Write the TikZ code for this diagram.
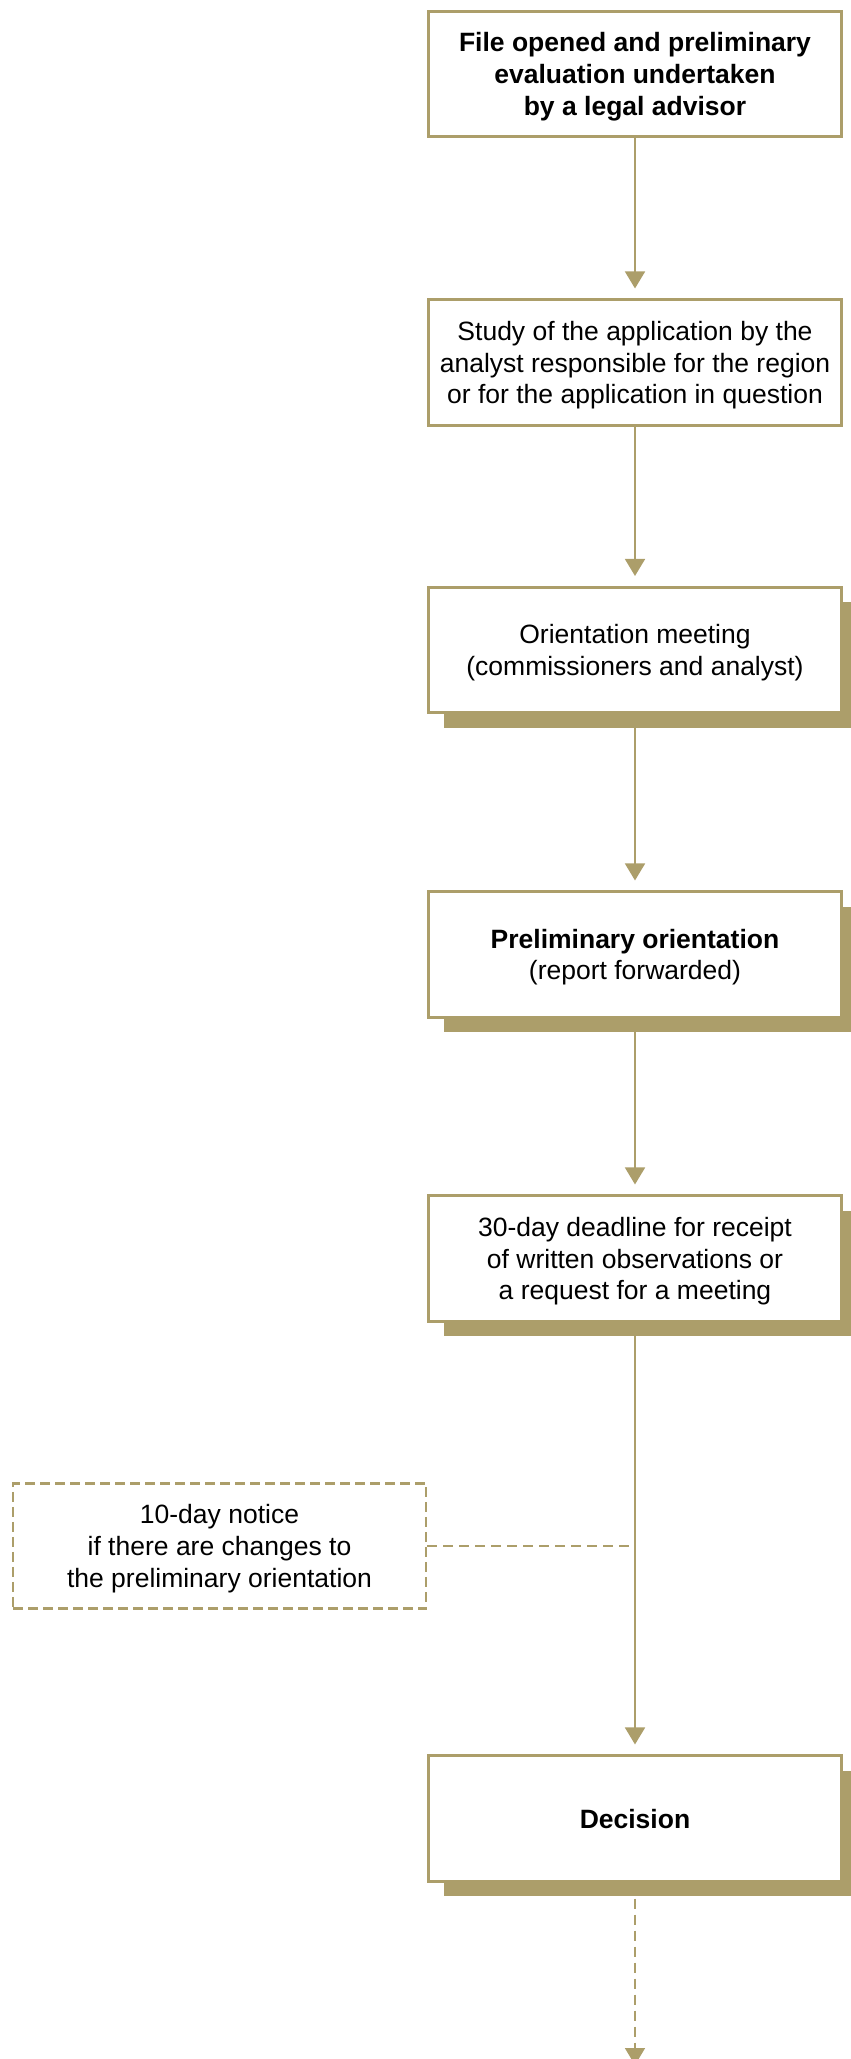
\documentclass[tikz,border=0pt]{standalone}
\usepackage{fontspec}
\setmainfont{Liberation Sans}
\usetikzlibrary{arrows.meta,shadows,backgrounds}
\definecolor{olive}{RGB}{172,158,106}
\tikzset{
  box/.style={draw=olive, line width=2.6pt, fill=white, minimum width=413pt, minimum height=125.5pt,
    align=center, inner sep=0pt, text depth=0pt, font=\fontsize{26.5pt}{31.7pt}\selectfont},
  shbox/.style={box, general shadow={fill=olive, shadow xshift=15pt, shadow yshift=-15pt}},
  dbox/.style={box, dash pattern=on 10pt off 5pt, line width=2.7pt, minimum width=413pt},
  conn/.style={draw=olive, line width=1.8pt, -{Triangle[width=20pt,length=17pt]}},
  dconn/.style={draw=olive, line width=1.8pt, dash pattern=on 10pt off 6pt},
}
\begin{document}
\begin{tikzpicture}[x=1pt,y=-1pt]
\useasboundingbox (0,0) rectangle (851,2059);
\node[box] (b1) at (635,74) {\textbf{File opened and preliminary}\\\textbf{evaluation undertaken}\\\textbf{by a legal advisor}};
\node[box] (b2) at (635,362.5) {Study of the application by the\\analyst responsible for the region\\or for the application in question};
\node[shbox] (b3) at (635,650) {Orientation meeting\\(commissioners and analyst)};
\node[shbox] (b4) at (635,954.5) {\textbf{Preliminary orientation}\\(report forwarded)};
\node[shbox] (b5) at (635,1258.5) {30-day deadline for receipt\\of written observations or\\a request for a meeting};
\node[dbox] (d) at (219.5,1546) {10-day notice\\if there are changes to\\the preliminary orientation};
\node[shbox] (b6) at (635,1818.5) {\textbf{Decision}};
\coordinate (end) at (635,2065);
\begin{scope}[on background layer]
\draw[conn] (b1.south) -- ([yshift=10pt]b2.north);
\draw[conn] (b2.south) -- ([yshift=10pt]b3.north);
\draw[conn] (b3.south) -- ([yshift=10pt]b4.north);
\draw[conn] (b4.south) -- ([yshift=10pt]b5.north);
\draw[conn] (b5.south) -- ([yshift=10pt]b6.north);
\draw[dconn] (d.east) -- (d.east -| b5.south);
\draw[dconn, -{Triangle[width=20pt,length=17pt]}] (b6.south) -- (end);
\end{scope}
\end{tikzpicture}
\end{document}
